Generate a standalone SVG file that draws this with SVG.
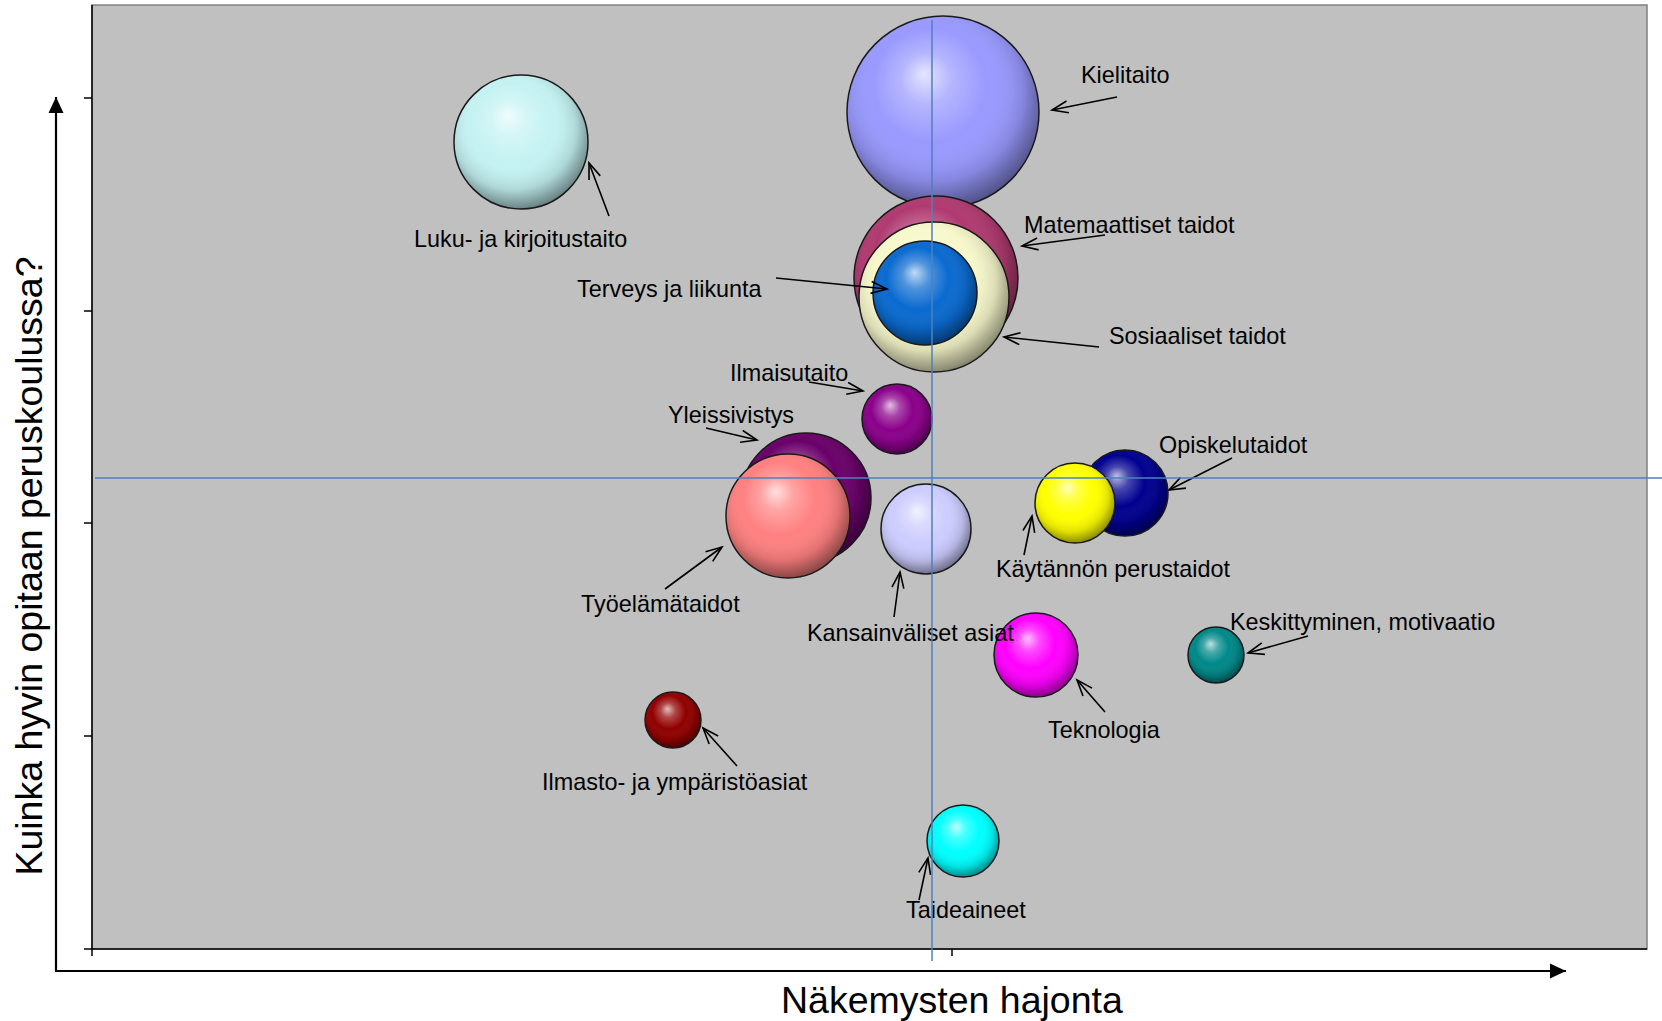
<svg xmlns="http://www.w3.org/2000/svg" width="1662" height="1021" viewBox="0 0 1662 1021">
<style>
  text { font-family: "Liberation Sans", Arial, sans-serif; fill: #000; }
  .lbl { font-size: 23.4px; }
  .ttl { font-size: 37.5px; }
  .b { stroke: none; }
  .s { fill: url(#shade); stroke: #1a1a1a; stroke-width: 1.5; }
  .arr { stroke: #000; stroke-width: 1.6; fill: none; marker-end: url(#open); }
  .cross { stroke: #4f81bd; stroke-width: 1.5; }
  .axis { stroke: #000; stroke-width: 2.2; }
  .tick { stroke: #000; stroke-width: 1.5; }
</style>
<defs>
  <radialGradient id="shade" cx="0.46" cy="0.42" r="0.6" fx="0.4" fy="0.3">
    <stop offset="0" stop-color="#fff" stop-opacity="0.75"/>
    <stop offset="0.22" stop-color="#fff" stop-opacity="0.28"/>
    <stop offset="0.5" stop-color="#fff" stop-opacity="0"/>
    <stop offset="0.78" stop-color="#000" stop-opacity="0.12"/>
    <stop offset="1" stop-color="#000" stop-opacity="0.5"/>
  </radialGradient>
  <marker id="open" viewBox="-18 -8 20 16" refX="0" refY="0" markerWidth="20" markerHeight="16" markerUnits="userSpaceOnUse" orient="auto" overflow="visible">
    <path d="M-16,-6 L0,0 L-16,6" fill="none" stroke="#000" stroke-width="1.6"/>
  </marker>
  <marker id="solid" viewBox="-16 -8 17 16" refX="0" refY="0" markerWidth="17" markerHeight="16" markerUnits="userSpaceOnUse" orient="auto" overflow="visible">
    <path d="M-16,-7.5 L0,0 L-16,7.5 Z" fill="#000"/>
  </marker>
</defs>

<rect x="0" y="0" width="1662" height="1021" fill="#fff"/>

<g id="plot">
  <rect x="92" y="5" width="1555" height="944" fill="#c0c0c0" stroke="#808080" stroke-width="1.5"/>
  <line x1="92" y1="5" x2="92" y2="949" stroke="#000" stroke-width="1.5"/>
  <line x1="92" y1="949" x2="1647" y2="949" stroke="#000" stroke-width="1.5"/>
  <line class="tick" x1="84" y1="98" x2="92" y2="98"/>
  <line class="tick" x1="84" y1="311" x2="92" y2="311"/>
  <line class="tick" x1="84" y1="523" x2="92" y2="523"/>
  <line class="tick" x1="84" y1="736" x2="92" y2="736"/>
  <line class="tick" x1="84" y1="949" x2="92" y2="949"/>
  <line class="tick" x1="92" y1="949" x2="92" y2="956"/>
  <line class="tick" x1="952" y1="949" x2="952" y2="956"/>
</g>

<g id="axes">
  <line class="axis" x1="56" y1="971" x2="56" y2="97" marker-end="url(#solid)"/>
  <line class="axis" x1="55" y1="971" x2="1566" y2="971" marker-end="url(#solid)"/>
  <text class="ttl" x="781" y="1013">Näkemysten hajonta</text>
  <text class="ttl" transform="translate(42,566) rotate(-90)" text-anchor="middle">Kuinka hyvin opitaan peruskoulussa?</text>
</g>

<g id="n-luku">
  <circle class="b" cx="521" cy="142" r="67" fill="#c4f2f2"/>
  <circle class="s" cx="521" cy="142" r="67"/>
  <text class="lbl" x="414" y="247">Luku- ja kirjoitustaito</text>
</g>
<g id="n-kielitaito">
  <circle class="b" cx="943" cy="112" r="96" fill="#9999ff"/>
  <circle class="s" cx="943" cy="112" r="96"/>
  <text class="lbl" x="1081" y="83">Kielitaito</text>
</g>
<g id="n-matemaattiset">
  <circle class="b" cx="936" cy="278" r="82" fill="#b03a70"/>
  <circle class="s" cx="936" cy="278" r="82"/>
  <text class="lbl" x="1024" y="233">Matemaattiset taidot</text>
</g>
<g id="n-sosiaaliset">
  <circle class="b" cx="934" cy="297" r="75" fill="#f8f8cc"/>
  <circle class="s" cx="934" cy="297" r="75"/>
  <text class="lbl" x="1109" y="344">Sosiaaliset taidot</text>
</g>
<g id="n-terveys">
  <circle class="b" cx="925" cy="293" r="52" fill="#0a6ad0"/>
  <circle class="s" cx="925" cy="293" r="52"/>
  <text class="lbl" x="577" y="297">Terveys ja liikunta</text>
</g>
<g id="n-ilmaisutaito">
  <circle class="b" cx="897" cy="419" r="35" fill="#8a008a"/>
  <circle class="s" cx="897" cy="419" r="35"/>
  <text class="lbl" x="730" y="381">Ilmaisutaito</text>
</g>
<g id="n-yleissivistys">
  <circle class="b" cx="806" cy="498" r="65" fill="#6a006a"/>
  <circle class="s" cx="806" cy="498" r="65"/>
  <text class="lbl" x="668" y="423">Yleissivistys</text>
</g>
<g id="n-tyoelama">
  <circle class="b" cx="788" cy="516" r="62" fill="#ff8080"/>
  <circle class="s" cx="788" cy="516" r="62"/>
  <text class="lbl" x="581" y="612">Työelämätaidot</text>
</g>
<g id="n-teknologia">
  <circle class="b" cx="1036" cy="655" r="42" fill="#ff00ff"/>
  <circle class="s" cx="1036" cy="655" r="42"/>
  <text class="lbl" x="1048" y="738">Teknologia</text>
</g>
<g id="n-kansainvaliset">
  <circle class="b" cx="926" cy="529" r="45" fill="#ccccff"/>
  <circle class="s" cx="926" cy="529" r="45"/>
  <text class="lbl" x="807" y="641">Kansainväliset asiat</text>
</g>
<g id="n-opiskelutaidot">
  <circle class="b" cx="1125" cy="493" r="43" fill="#000090"/>
  <circle class="s" cx="1125" cy="493" r="43"/>
  <text class="lbl" x="1159" y="453">Opiskelutaidot</text>
</g>
<g id="n-kaytannon">
  <circle class="b" cx="1075" cy="503" r="40" fill="#ffff00"/>
  <circle class="s" cx="1075" cy="503" r="40"/>
  <text class="lbl" x="996" y="577">Käytännön perustaidot</text>
</g>
<g id="n-keskittyminen">
  <circle class="b" cx="1216" cy="655" r="28" fill="#008888"/>
  <circle class="s" cx="1216" cy="655" r="28"/>
  <text class="lbl" x="1230" y="630">Keskittyminen, motivaatio</text>
</g>
<g id="n-ilmasto">
  <circle class="b" cx="673" cy="720" r="28" fill="#900000"/>
  <circle class="s" cx="673" cy="720" r="28"/>
  <text class="lbl" x="542" y="790">Ilmasto- ja ympäristöasiat</text>
</g>
<g id="n-taideaineet">
  <circle class="b" cx="963" cy="841" r="36" fill="#00ffff"/>
  <circle class="s" cx="963" cy="841" r="36"/>
  <text class="lbl" x="906" y="918">Taideaineet</text>
</g>

<g id="connectors">
  <line class="arr" x1="1117" y1="97" x2="1052" y2="110"/>
  <line class="arr" x1="609" y1="216" x2="589" y2="163"/>
  <line class="arr" x1="1105" y1="235" x2="1022" y2="246"/>
  <line class="arr" x1="776" y1="278" x2="887" y2="289"/>
  <line class="arr" x1="1099" y1="347" x2="1004" y2="337"/>
  <line class="arr" x1="809" y1="382" x2="863" y2="391"/>
  <line class="arr" x1="706" y1="428" x2="757" y2="440"/>
  <line class="arr" x1="1232" y1="458" x2="1169" y2="490"/>
  <line class="arr" x1="1024" y1="555" x2="1032" y2="516"/>
  <line class="arr" x1="665" y1="589" x2="722" y2="547"/>
  <line class="arr" x1="894" y1="617" x2="900" y2="572"/>
  <line class="arr" x1="1308" y1="636" x2="1248" y2="653"/>
  <line class="arr" x1="1105" y1="712" x2="1077" y2="680"/>
  <line class="arr" x1="737" y1="766" x2="703" y2="728"/>
  <line class="arr" x1="919" y1="900" x2="928" y2="858"/>
</g>

<g id="crosshair">
  <line class="cross" x1="932" y1="20" x2="932" y2="961"/>
  <line class="cross" x1="95" y1="478" x2="1662" y2="478"/>
</g>
</svg>
